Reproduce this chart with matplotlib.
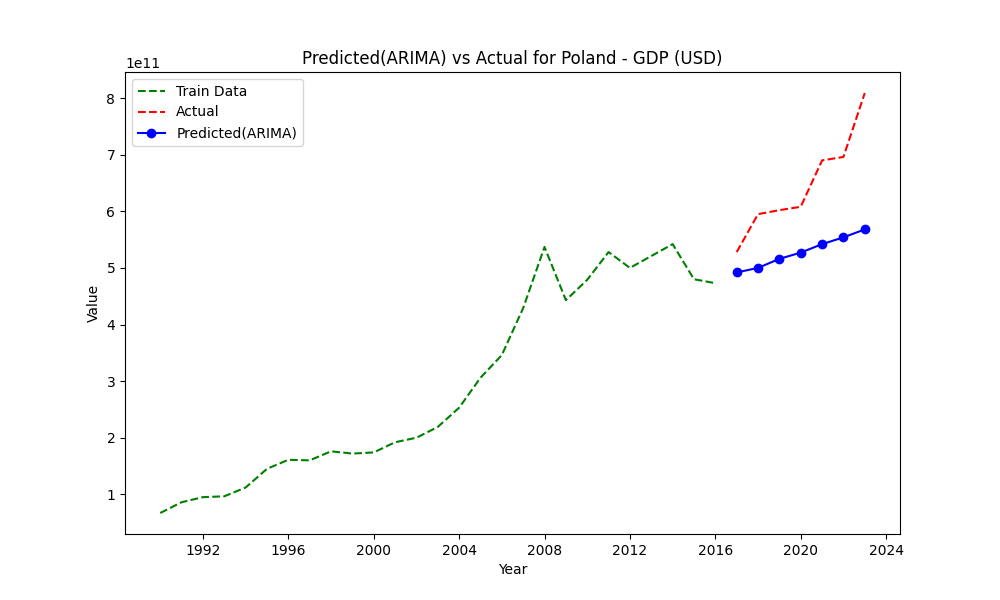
import matplotlib
matplotlib.use("Agg")
import matplotlib.pyplot as plt
import pandas as pd

country = "Poland"
indicator = "GDP (USD)"

train_years = list(range(1990, 2017))
train_values = [0.67, 0.86, 0.95, 0.965, 1.12, 1.45, 1.61, 1.60, 1.76, 1.72,
                1.74, 1.92, 2.00, 2.19, 2.53, 3.06, 3.46, 4.29, 5.37, 4.43,
                4.79, 5.28, 5.00, 5.21, 5.42, 4.80, 4.73]

test_years = list(range(2017, 2024))
actual_values = [5.28, 5.95, 6.02, 6.08, 6.90, 6.96, 8.09]
predicted_values = [4.92, 5.00, 5.16, 5.27, 5.42, 5.54, 5.68]

train_idx = pd.to_datetime([str(y) for y in train_years])
test_idx = pd.to_datetime([str(y) for y in test_years])
scale = 1e11

fig, ax = plt.subplots(figsize=(10, 6))
ax.plot(train_idx, [v * scale for v in train_values], "g--", label="Train Data")
ax.plot(test_idx, [v * scale for v in actual_values], "r--", label="Actual")
ax.plot(test_idx, [v * scale for v in predicted_values], "bo-", label="Predicted(ARIMA)")

ax.set_title(f"Predicted(ARIMA) vs Actual for {country} - {indicator}")
ax.set_xlabel("Year")
ax.set_ylabel("Value")
ax.legend(loc="upper left")

plt.savefig("out.png", dpi=100)
plt.close()
